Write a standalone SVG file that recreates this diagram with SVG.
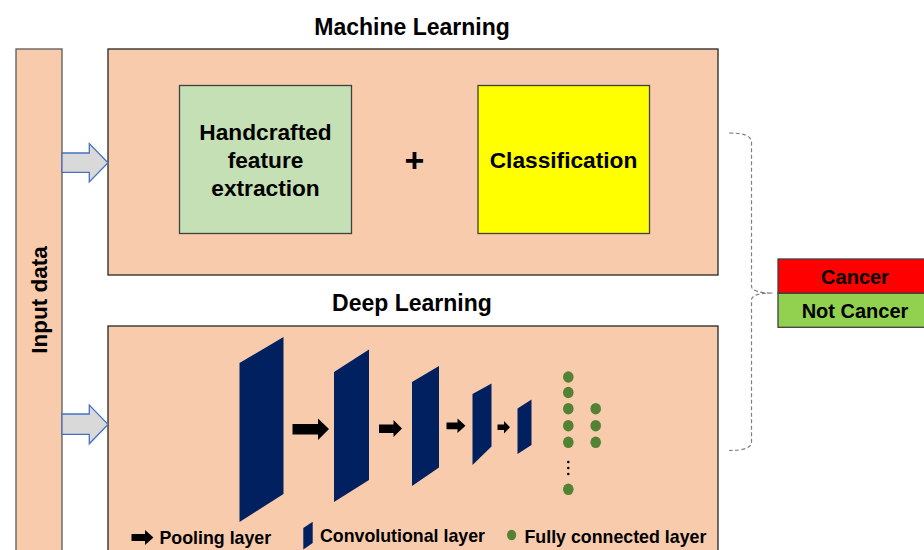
<svg xmlns="http://www.w3.org/2000/svg" width="924" height="550" viewBox="0 0 924 550">
  <style>
    .panel { fill: #F8CBAD; stroke: #262626; stroke-width: 1.3; }
    .box { stroke: #404040; stroke-width: 1.3; }
    .t { font-family: "Liberation Sans", Arial, sans-serif; font-weight: bold; fill: #000; }
    .title { font-size: 23px; text-anchor: middle; }
    .lbl { font-size: 22.7px; text-anchor: middle; }
    .res { font-size: 20px; text-anchor: middle; }
    .leg { font-size: 17.8px; }
    .conv { fill: #002060; }
    .pool { fill: #000; }
    .fc { fill: #548235; }
    .inarrow { fill: #D9D9D9; stroke: #4472C4; stroke-width: 1.3; stroke-linejoin: miter; }
    .brace { fill: none; stroke: #7F7F7F; stroke-width: 1.2; stroke-dasharray: 4 2.5; }
  </style>

  <rect width="924" height="550" fill="#FFFFFF"/>

  <!-- Input column -->
  <g id="input-data">
    <rect class="panel" x="16" y="49" width="46" height="520" style="stroke:#595959"/>
    <text class="t" x="0" y="0" font-size="22.5" text-anchor="middle" transform="translate(47,300) rotate(-90)">Input data</text>
  </g>

  <!-- Machine learning panel -->
  <g id="machine-learning">
    <text class="t title" x="412" y="35">Machine Learning</text>
    <rect class="panel" x="108" y="49" width="610" height="226"/>
  </g>
  <g id="handcrafted">
    <rect class="box" x="179.5" y="85.5" width="172" height="148" fill="#C5E0B4"/>
    <text class="t lbl" x="265.5" y="140">Handcrafted</text>
    <text class="t lbl" x="265.5" y="168">feature</text>
    <text class="t lbl" x="265.5" y="196">extraction</text>
  </g>
  <g id="plus">
    <text class="t" x="414.5" y="172" font-size="34" text-anchor="middle">+</text>
  </g>
  <g id="classification">
    <rect class="box" x="478" y="85.5" width="171.5" height="148" fill="#FFFF00"/>
    <text class="t lbl" x="563.5" y="168">Classification</text>
  </g>

  <!-- Deep learning panel -->
  <g id="deep-learning">
    <text class="t title" x="412" y="311">Deep Learning</text>
    <rect class="panel" x="108" y="326" width="610" height="240"/>
  </g>
  <g id="cnn">
    <polygon class="conv" points="239.5,363 283.5,337 283.5,494 239.5,522"/>
    <polygon class="pool" points="292.5,424 318,424 318,418.5 329,429 318,440 318,434.5 292.5,434.5"/>
    <polygon class="conv" points="334,372 369,349.5 369,480 334,502"/>
    <polygon class="pool" points="379,424.5 393.5,424.5 393.5,420 402,428.5 393.5,437 393.5,433 379,433"/>
    <polygon class="conv" points="412,382 439,366 439,467.5 412,486"/>
    <polygon class="pool" points="446.5,422.5 457.5,422.5 457.5,418.5 465.5,425.8 457.5,433 457.5,429.3 446.5,429.3"/>
    <polygon class="conv" points="472.5,394 491.5,383.5 491.5,446.5 472.5,465"/>
    <polygon class="pool" points="497.5,424.5 504,424.5 504,421 510,427.3 504,433.5 504,430 497.5,430"/>
    <polygon class="conv" points="517.5,408.5 531.5,399.5 531.5,445 517.5,454"/>
    <g class="fc">
      <ellipse cx="568.3" cy="377" rx="5.3" ry="5.8"/>
      <ellipse cx="568.3" cy="392.5" rx="5.3" ry="5.8"/>
      <ellipse cx="568.3" cy="408.7" rx="5.3" ry="5.8"/>
      <ellipse cx="568.3" cy="425.7" rx="5.3" ry="5.8"/>
      <ellipse cx="568.3" cy="442.3" rx="5.3" ry="5.8"/>
      <ellipse cx="568.3" cy="489.3" rx="5.3" ry="5.8"/>
      <ellipse cx="595.7" cy="408.7" rx="5.3" ry="5.8"/>
      <ellipse cx="595.7" cy="425.7" rx="5.3" ry="5.8"/>
      <ellipse cx="595.7" cy="442.3" rx="5.3" ry="5.8"/>
    </g>
    <g fill="#000">
      <circle cx="568.3" cy="462" r="1.3"/>
      <circle cx="568.3" cy="468" r="1.3"/>
      <circle cx="568.3" cy="474" r="1.3"/>
    </g>
  </g>

  <!-- Legend -->
  <g id="legend">
    <polygon class="pool" points="131.5,534 145,534 145,530 153.5,537.5 145,545 145,541 131.5,541"/>
    <text class="t leg" x="159.5" y="543.5">Pooling layer</text>
    <polygon class="conv" points="303.3,528 312.7,521.7 312.7,543 303.3,549.5"/>
    <text class="t leg" x="320" y="541.5">Convolutional layer</text>
    <ellipse class="fc" cx="511.6" cy="535" rx="4.6" ry="5.3"/>
    <text class="t leg" x="524.5" y="543">Fully connected layer</text>
  </g>

  <!-- Output classes -->
  <g id="output">
    <rect class="box" x="778" y="259" width="160" height="34.3" fill="#FF0000"/>
    <rect class="box" x="778" y="293.3" width="160" height="34" fill="#92D050"/>
    <text class="t res" x="855" y="283.5">Cancer</text>
    <text class="t res" x="855" y="317.5">Not Cancer</text>
  </g>

  <!-- Connectors -->
  <g id="connectors">
    <polygon class="inarrow" points="62,153 89.3,153 89.3,143.5 108,162.7 89.3,182 89.3,172.3 62,172.3"/>
    <polygon class="inarrow" points="62,414 89.3,414 89.3,405 108,424.4 89.3,443.8 89.3,434.3 62,434.3"/>
    <path class="brace" d="M729,133 Q751.5,133 751.5,142 L751.5,286 Q751.5,293 773,293 Q751.5,293 751.5,300 L751.5,442 Q751.5,450.5 729,450.5"/>
  </g>
</svg>
